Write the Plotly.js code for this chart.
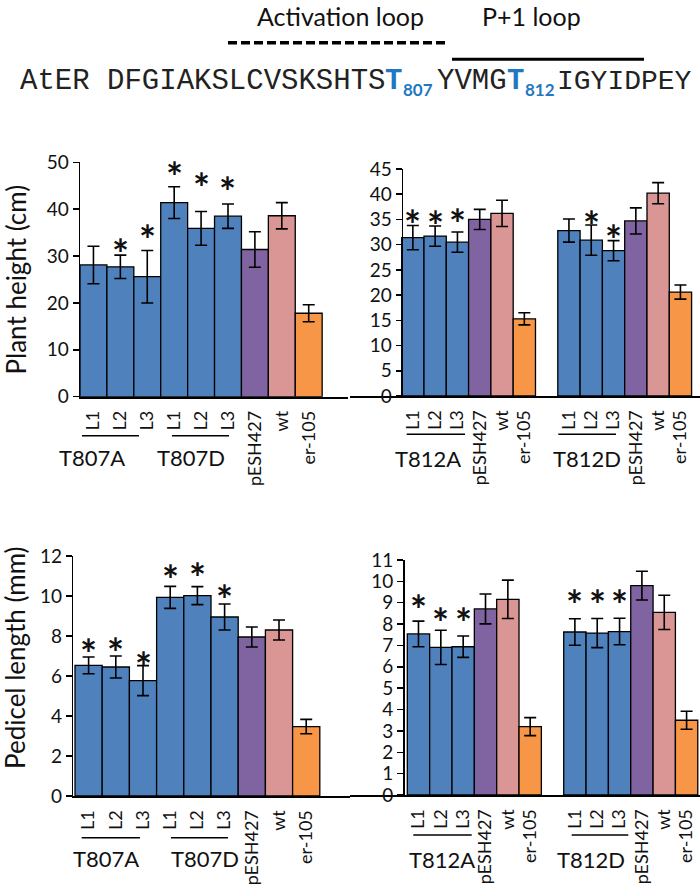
<!DOCTYPE html>
<html>
<head>
<meta charset="utf-8">
<script src="https://cdn.plot.ly/plotly-3.0.1.min.js"></script>
<style>html,body{margin:0;padding:0;background:#fff;}#chart{width:700px;height:889px;}</style>
</head>
<body>
<div id="chart"></div>
<script>
// ---------------- DATA ----------------
const labels807 = ["L1","L2","L3","L1","L2","L3","pESH427","wt","er-105"];
const ids807 = ["A-L1","A-L2","A-L3","D-L1","D-L2","D-L3","pESH427","wt","er-105"];
const labels812 = ["L1","L2","L3","pESH427","wt","er-105","","L1","L2","L3","pESH427","wt","er-105"];
const ids812 = ["A-L1","A-L2","A-L3","A-pESH427","A-wt","A-er-105","gap","D-L1","D-L2","D-L3","D-pESH427","D-wt","D-er-105"];

const height807 = [28.1,27.7,25.6,41.4,35.9,38.5,31.4,38.6,17.8];
const height807Err = [4.0,2.5,5.6,3.4,3.6,2.6,3.8,2.8,1.8];
const height807Star = [null,32.5,35.5,49.0,46.6,45.8,null,null,null];

const height812 = [31.4,31.7,30.5,35.0,36.2,15.3,null,32.8,30.9,28.8,34.7,40.2,20.6];
const height812Err = [2.4,2.0,2.0,2.0,2.6,1.2,null,2.3,3.0,2.0,2.6,2.1,1.4];
const height812Star = [35.8,35.6,36.0,null,null,null,null,null,35.7,32.9,null,null,null];

const pedicel807 = [6.53,6.45,5.77,9.93,10.02,8.95,7.95,8.3,3.47];
const pedicel807Err = [0.42,0.55,0.75,0.55,0.45,0.65,0.5,0.5,0.36];
const pedicel807Star = [7.6,7.63,6.97,11.3,11.38,10.3,null,null,null];

const pedicel812 = [7.54,6.91,6.94,8.71,9.16,3.2,null,7.63,7.58,7.65,9.8,8.55,3.5];
const pedicel812Err = [0.6,0.8,0.5,0.7,0.9,0.42,null,0.62,0.68,0.62,0.67,0.8,0.42];
const pedicel812Star = [9.13,8.54,8.5,null,null,null,null,9.36,9.36,9.36,null,null,null];

// ---------------- STYLE ----------------
const W = 700, H = 889;
const px = x => x / W;
const py = y => 1 - y / H;
const FONT = "Lato, 'Open Sans', sans-serif";
const COLORS = {L: "#4F81BD", pESH427: "#8064A2", wt: "#D99694", "er-105": "#F79646", "": "#ffffff"};
const colorFor = lab => (lab.startsWith("L") ? COLORS.L : COLORS[lab]);

function barTrace(ids, labels, vals, errs, xa, ya) {
  return {
    type: "bar", x: ids, y: vals, xaxis: xa, yaxis: ya,
    marker: {color: labels.map(colorFor), line: {color: "#000", width: 1.3}},
    error_y: {type: "data", array: errs, visible: true, color: "#000", thickness: 1.6, width: 6},
    hoverinfo: "skip", showlegend: false
  };
}

const traces = [
  barTrace(ids807, labels807, height807, height807Err, "x", "y"),
  barTrace(ids812, labels812, height812, height812Err, "x2", "y2"),
  barTrace(ids807, labels807, pedicel807, pedicel807Err, "x3", "y3"),
  barTrace(ids812, labels812, pedicel812, pedicel812Err, "x4", "y4")
];

function xAxis(domainPx, range, ids, labels, anchor) {
  return {
    domain: [px(domainPx[0]), px(domainPx[1])], range: range, anchor: anchor,
    type: "category", categoryorder: "array", categoryarray: ids,
    tickmode: "array", tickvals: ids, ticktext: labels, tickangle: -90,
    ticks: "", showline: true, linecolor: "#000", linewidth: 2,
    showgrid: false, zeroline: false, fixedrange: true,
    ticklabelstandoff: 5,
    tickfont: {family: FONT, size: 18, color: "#111"}
  };
}
function yAxis(domainPy, range, dtick, xanchor, posPx) {
  const a = {
    domain: [py(domainPy[1]), py(domainPy[0])], range: range, dtick: dtick, tick0: 0,
    ticks: "outside", ticklen: 6, tickwidth: 1.5, tickcolor: "#000",
    showline: true, linecolor: "#000", linewidth: 1.5,
    showgrid: false, zeroline: false, fixedrange: true,
    tickfont: {family: FONT, size: 19, color: "#111"}
  };
  if (posPx !== undefined) { a.anchor = "free"; a.position = px(posPx); } else { a.anchor = xanchor; }
  return a;
}

const layout = {
  width: W, height: H, margin: {l: 0, r: 0, t: 0, b: 0},
  paper_bgcolor: "#fff", plot_bgcolor: "rgba(0,0,0,0)",
  font: {family: FONT, color: "#111"}, showlegend: false, bargap: 0,
  xaxis: xAxis([80, 348], [-0.5, 9.46], ids807, labels807, "y"),
  yaxis: yAxis([162.3, 396.7], [0, 50], 10, "x"),
  xaxis2: xAxis([350, 700], [-2.818, 12.877], ids812, labels812, "y2"),
  yaxis2: yAxis([169, 396], [0, 45], 5, null, 401.7),
  xaxis3: xAxis([73.3, 350], [-0.5625, 9.61], ids807, labels807, "y3"),
  yaxis3: yAxis([556, 796], [0, 12], 2, "x3"),
  xaxis4: xAxis([350, 700], [-3.065, 12.6], ids812, labels812, "y4"),
  yaxis4: yAxis([560, 795], [0, 11], 1, null, 403),
  shapes: [], annotations: []
};

// stars
function addStars(ids, stars, xa, ya) {
  ids.forEach((id, i) => {
    if (stars[i] !== null) {
      layout.annotations.push({xref: xa, yref: ya, x: id, y: stars[i], text: "<b>*</b>", showarrow: false,
        yanchor: "middle", yshift: -10, font: {family: FONT, size: 40, color: "#111"}});
    }
  });
}
addStars(ids807, height807Star, "x", "y");
addStars(ids812, height812Star, "x2", "y2");
addStars(ids807, pedicel807Star, "x3", "y3");
addStars(ids812, pedicel812Star, "x4", "y4");

// group underlines & labels
function hline(x0, x1, y, extra) {
  layout.shapes.push(Object.assign({type: "line", xref: "paper", yref: "paper",
    x0: px(x0), x1: px(x1), y0: py(y), y1: py(y), line: {color: "#000", width: 1.5}}, extra || {}));
}
function label(text, x, y, size, extra) {
  layout.annotations.push(Object.assign({xref: "paper", yref: "paper", x: px(x), y: py(y), text: text,
    showarrow: false, xanchor: "center", yanchor: "middle", font: {family: FONT, size: size, color: "#111"}}, extra || {}));
}
hline(82, 139, 435.7); hline(172, 229, 435.7);
hline(406.7, 465, 434.3); hline(558.3, 616, 434.3);
hline(81.7, 140, 837.7); hline(171, 228, 837.7);
hline(413.3, 471.7, 835); hline(571.7, 628.3, 835);
label("T807A", 92, 457, 22); label("T807D", 191, 457, 22);
label("T812A", 427.5, 458, 22); label("T812D", 586.7, 458, 22);
label("T807A", 106, 858, 22); label("T807D", 205, 858, 22);
label("T812A", 442, 859, 22); label("T812D", 591, 859, 22);

// y titles
label("Plant height (cm)", 15, 279.5, 26, {textangle: -90});
label("Pedicel length (mm)", 15, 658, 26, {textangle: -90});

// header
label("Activation loop", 340, 16, 25);
label("P+1 loop", 531, 16, 25);
hline(228, 449, 42.7, {line: {color: "#000", width: 3.5, dash: "9px,4px"}});
hline(452, 644, 59.3, {line: {color: "#000", width: 3}});
const MONO = "'Liberation Mono', 'DejaVu Sans Mono', monospace";
const BLUE = "#1F78C1";
const seqParts = [
  {t: "AtER DFGIAKSLCVSKSHTS", x: 18, y: 81.7, f: MONO, s: 29, c: "#222"},
  {t: "<b>T</b>", x: 383, y: 81.7, f: MONO, s: 29, c: BLUE},
  {t: "<b>807</b>", x: 401, y: 89.5, f: FONT, s: 17, c: BLUE},
  {t: "YVMG", x: 435, y: 81.7, f: MONO, s: 29, c: "#222"},
  {t: "<b>T</b>", x: 505, y: 81.7, f: MONO, s: 29, c: BLUE},
  {t: "<b>812</b>", x: 523, y: 89.5, f: FONT, s: 17, c: BLUE},
  {t: "IGYIDPEY", x: 555, y: 81.7, f: MONO, s: 28, c: "#222"}
];
seqParts.forEach(p => label(p.t, p.x, p.y, p.s, {xanchor: "left", font: {family: p.f, size: p.s, color: p.c}}));

Plotly.newPlot("chart", traces, layout, {staticPlot: true, displayModeBar: false});
</script>
</body>
</html>
